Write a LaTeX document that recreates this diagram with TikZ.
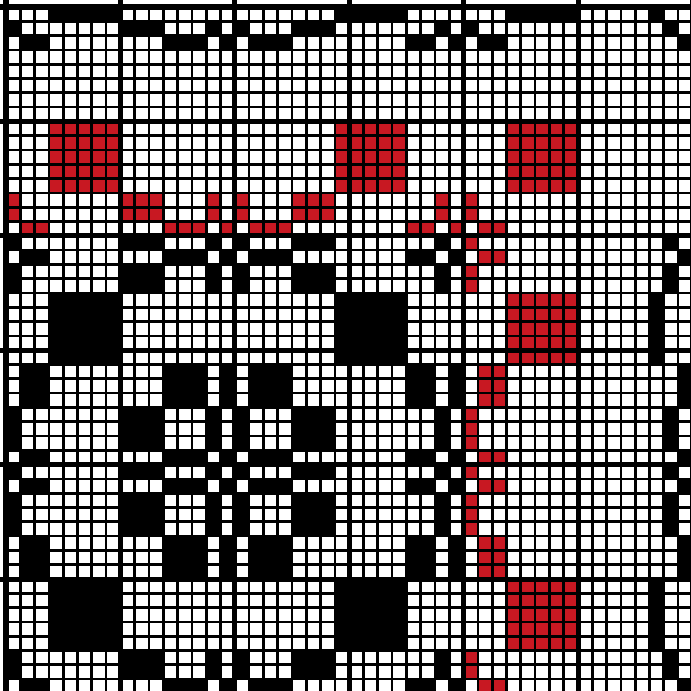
\documentclass[tikz,border=0pt]{standalone}
\usepackage{tikz}
\definecolor{draftred}{RGB}{200,24,34}

\begin{document}
\begin{tikzpicture}[x=3mm,y=3mm]
\tikzstyle{cellline}=[line width=1.6pt]
\tikzstyle{blockline}=[line width=3pt]
\tikzstyle{redcell}=[fill=draftred]
\def\threading{1,2,2,0,0,0,0,0,1,1,1,2,2,2,1,2,1,2,2,2,1,1,1,0,0,0,0,0,2,2,1,2,1,2,2,0,0,0,0,0}
\def\treadling{0,0,0,0,0,1,1,2,1,2,1,1,0,0,0,0,0,2,2,2,1,1,1,2,1,2,1,1,1,2,2,2,0,0,0,0,0,1,1,2}
\useasboundingbox (-0.42,0.49) rectangle (47.9,-47.83);
\clip (-0.42,0.49) rectangle (47.9,-47.83);
\fill[white] (-0.42,0.49) rectangle (47.9,-47.83);
\foreach \sh [count=\x from 0] in \threading {
  \fill (\x,-\sh) rectangle ++(1,-1);
  \foreach \tr [count=\y from 8] in \treadling {
    \ifnum\sh=\tr
      \ifnum\y<16 \fill[redcell] (\x,-\y) rectangle ++(1,-1);
      \else\ifnum\x>31 \fill[redcell] (\x,-\y) rectangle ++(1,-1);
      \else \fill (\x,-\y) rectangle ++(1,-1);
      \fi\fi
    \fi
  }
}
\foreach \tr [count=\y from 8] in \treadling {
  \ifnum\y>15 \fill (45+\tr,-\y) rectangle ++(1,-1); \fi
}
\foreach \k in {0,1,2} \fill (45+\k,-\k) rectangle ++(1,-1);
\draw[cellline,step=3mm] (0,0) grid (48,-48);
\foreach \k in {0,8,...,48} {
  \draw[blockline] (\k,1) -- (\k,-49);
  \draw[blockline] (-1,-\k) -- (49,-\k);
}
\end{tikzpicture}
\end{document}
